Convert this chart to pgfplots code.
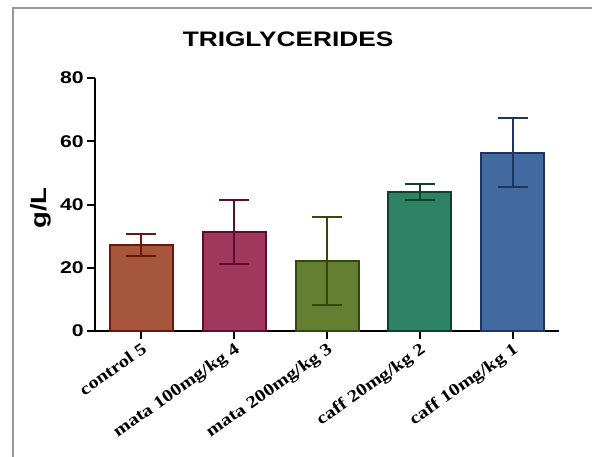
\documentclass[border=0pt]{standalone}
\usepackage{fontspec}
\usepackage{pgfplots}
\pgfplotsset{compat=1.18}
\newfontfamily\sansS[FakeStretch=1.25]{Liberation Sans}
\newfontfamily\serifS[FakeStretch=1.2]{Liberation Serif}
\definecolor{c1f}{RGB}{166,86,60}\definecolor{c1d}{RGB}{110,22,10}
\definecolor{c2f}{RGB}{160,56,92}\definecolor{c2d}{RGB}{92,14,46}
\definecolor{c3f}{RGB}{100,126,50}\definecolor{c3d}{RGB}{50,72,14}
\definecolor{c4f}{RGB}{46,130,102}\definecolor{c4d}{RGB}{14,64,44}
\definecolor{c5f}{RGB}{66,106,160}\definecolor{c5d}{RGB}{30,54,94}
\pgfplotsset{myerr/.style={error bars/.cd, y dir=both, y explicit, error mark=|,
  error bar style={line width=2pt, draw=#1},
  error mark options={line width=2pt, mark size=15pt, draw=#1}}}
\begin{document}
\begin{tikzpicture}
\path[use as bounding box] (-95pt,-125pt) rectangle (497pt,331pt);
\draw[line width=2pt, gray!80] (-82pt,-126pt) -- (-82pt,323pt) -- (498pt,323pt);
\begin{axis}[
  scale only axis, width=464pt, height=253pt,
  xmin=-0.5, xmax=4.5, ymin=0, ymax=80,
  axis x line*=bottom, axis y line*=left,
  axis line style={line width=2pt, black},
  ytick={0,20,40,60,80}, xtick={0,1,2,3,4},
  xticklabels={control 5, mata 100mg/kg 4, mata 200mg/kg 3, caff 20mg/kg 2, caff 10mg/kg 1},
  tick align=outside, major tick length=8pt,
  tick style={line width=2pt, black},
  /pgf/number format/assume math mode=true,
  yticklabel style={font=\sansS\bfseries\fontsize{17}{17}\selectfont, inner sep=1pt, xshift=-2pt},
  xticklabel style={font=\serifS\bfseries\fontsize{17}{17}\selectfont, rotate=35, anchor=north east, inner sep=2pt},
  ylabel={g/L},
  ylabel style={font=\sansS\bfseries\fontsize{22}{22}\selectfont, at={(axis description cs:-0.1164,0.486)}, anchor=center},
  title={TRIGLYCERIDES},
  title style={font=\sansS\bfseries\fontsize{21}{21}\selectfont, at={(axis description cs:0.416,1.13)}, anchor=center},
  ybar, bar width=63pt, bar shift=0pt,
  clip=false,
]
\addplot[fill=c1f, draw=c1d, line width=2pt, myerr=c1d] coordinates {(0,27.2) +- (0,3.5)};
\addplot[fill=c2f, draw=c2d, line width=2pt, myerr=c2d] coordinates {(1,31.3) +- (0,10.0)};
\addplot[fill=c3f, draw=c3d, line width=2pt, myerr=c3d] coordinates {(2,22.1) +- (0,14.0)};
\addplot[fill=c4f, draw=c4d, line width=2pt, myerr=c4d] coordinates {(3,43.9) +- (0,2.5)};
\addplot[fill=c5f, draw=c5d, line width=2pt, myerr=c5d] coordinates {(4,56.4) +- (0,11.0)};
\end{axis}
\end{tikzpicture}
\end{document}
